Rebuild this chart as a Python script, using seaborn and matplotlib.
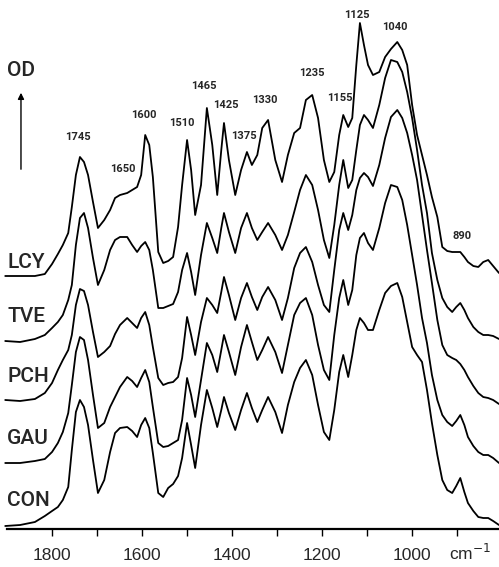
import numpy as np
import pandas as pd
import seaborn as sns
import matplotlib.pyplot as plt

# wavenumber grid (cm-1) shared by all five spectra
wavenumber = [1904, 1871, 1838, 1816, 1800, 1787, 1776, 1764, 1756, 1747,
              1738, 1729, 1720, 1709, 1698, 1684, 1671, 1660, 1649, 1633,
              1622, 1611, 1602, 1593, 1584, 1576, 1564, 1553, 1542, 1531,
              1520, 1511, 1500, 1491, 1482, 1469, 1456, 1444, 1433, 1424,
              1418, 1407, 1393, 1380, 1367, 1356, 1344, 1333, 1320, 1304,
              1289, 1276, 1262, 1249, 1236, 1222, 1209, 1196, 1184, 1173,
              1162, 1153, 1142, 1133, 1124, 1116, 1107, 1098, 1087, 1073,
              1060, 1047, 1033, 1022, 1011, 1000, 989, 978, 967, 956,
              944, 933, 922, 911, 902, 893, 884, 876, 864, 853,
              842, 831, 820, 807]

# OD, each relative to its own baseline
lcy = [0.00, 0.00, 0.00, 0.02, 0.12, 0.22, 0.31, 0.43, 0.69, 1.01,
       1.19, 1.14, 1.01, 0.74, 0.48, 0.56, 0.66, 0.78, 0.81, 0.83,
       0.86, 0.89, 1.01, 1.41, 1.31, 0.99, 0.24, 0.13, 0.15, 0.19,
       0.49, 0.91, 1.36, 1.06, 0.61, 0.91, 1.68, 1.31, 0.81, 1.26,
       1.53, 1.16, 0.81, 1.06, 1.24, 1.11, 1.21, 1.48, 1.56, 1.16,
       0.94, 1.21, 1.43, 1.48, 1.76, 1.81, 1.58, 1.16, 0.94, 1.04,
       1.41, 1.61, 1.49, 1.58, 2.11, 2.53, 2.31, 2.11, 2.01, 2.04,
       2.19, 2.27, 2.34, 2.26, 2.11, 1.71, 1.41, 1.21, 1.01, 0.79,
       0.59, 0.29, 0.25, 0.24, 0.24, 0.24, 0.19, 0.14, 0.10, 0.09,
       0.14, 0.16, 0.10, 0.03]
tve = [0.00, -0.01, 0.02, 0.06, 0.13, 0.19, 0.26, 0.41, 0.56, 0.96,
       1.23, 1.28, 1.13, 0.83, 0.56, 0.71, 0.91, 1.01, 1.04, 1.04,
       0.96, 0.89, 0.95, 0.99, 0.91, 0.71, 0.33, 0.33, 0.35, 0.37,
       0.49, 0.71, 0.88, 0.69, 0.46, 0.86, 1.18, 1.03, 0.88, 1.13,
       1.28, 1.09, 0.88, 1.13, 1.28, 1.13, 1.01, 1.09, 1.18, 1.06,
       0.91, 1.06, 1.29, 1.51, 1.66, 1.56, 1.31, 1.01, 0.83, 1.16,
       1.56, 1.81, 1.53, 1.61, 1.91, 2.16, 2.26, 2.21, 2.13, 2.36,
       2.63, 2.81, 2.79, 2.69, 2.49, 2.23, 1.91, 1.56, 1.28, 0.88,
       0.61, 0.43, 0.34, 0.29, 0.34, 0.38, 0.31, 0.23, 0.14, 0.09,
       0.06, 0.06, 0.05, 0.02]
pch = [0.01, 0.00, 0.02, 0.08, 0.18, 0.31, 0.41, 0.51, 0.66, 0.96,
       1.12, 1.10, 0.96, 0.69, 0.44, 0.49, 0.55, 0.67, 0.76, 0.83,
       0.78, 0.73, 0.83, 0.89, 0.76, 0.54, 0.23, 0.16, 0.18, 0.19,
       0.24, 0.43, 0.84, 0.66, 0.46, 0.79, 1.03, 0.96, 0.88, 1.09,
       1.24, 1.06, 0.81, 1.03, 1.18, 1.04, 0.91, 1.04, 1.14, 1.01,
       0.81, 1.03, 1.33, 1.48, 1.54, 1.39, 1.16, 0.96, 0.89, 1.31,
       1.71, 1.88, 1.71, 1.86, 2.11, 2.23, 2.28, 2.24, 2.15, 2.36,
       2.63, 2.84, 2.91, 2.83, 2.68, 2.46, 2.21, 1.86, 1.51, 1.18,
       0.81, 0.56, 0.46, 0.43, 0.41, 0.37, 0.31, 0.24, 0.15, 0.08,
       0.04, 0.03, 0.01, -0.03]
gau = [0.00, 0.00, 0.02, 0.04, 0.11, 0.20, 0.31, 0.50, 0.78, 1.11,
       1.26, 1.23, 1.03, 0.68, 0.35, 0.40, 0.56, 0.66, 0.76, 0.86,
       0.82, 0.76, 0.85, 0.93, 0.81, 0.56, 0.20, 0.16, 0.17, 0.20,
       0.23, 0.43, 0.85, 0.68, 0.46, 0.83, 1.20, 1.08, 0.91, 1.13,
       1.28, 1.11, 0.88, 1.16, 1.38, 1.21, 1.03, 1.13, 1.26, 1.11,
       0.90, 1.18, 1.48, 1.60, 1.65, 1.48, 1.18, 0.93, 0.83, 1.28,
       1.65, 1.83, 1.58, 1.73, 2.08, 2.25, 2.30, 2.20, 2.13, 2.35,
       2.60, 2.78, 2.76, 2.63, 2.38, 2.08, 1.78, 1.45, 1.20, 0.88,
       0.63, 0.48, 0.41, 0.37, 0.42, 0.48, 0.38, 0.26, 0.17, 0.11,
       0.08, 0.08, 0.05, 0.00]
con = [-0.01, 0.00, 0.03, 0.09, 0.14, 0.18, 0.25, 0.38, 0.75, 1.13,
       1.25, 1.18, 1.00, 0.65, 0.32, 0.45, 0.73, 0.92, 0.97, 0.98,
       0.94, 0.88, 1.00, 1.07, 0.97, 0.72, 0.32, 0.28, 0.37, 0.41,
       0.49, 0.67, 1.02, 0.80, 0.57, 1.00, 1.35, 1.17, 0.98, 1.15,
       1.28, 1.12, 0.95, 1.15, 1.32, 1.17, 1.03, 1.15, 1.28, 1.13,
       0.92, 1.20, 1.43, 1.57, 1.65, 1.50, 1.20, 0.93, 0.85, 1.15,
       1.53, 1.70, 1.48, 1.70, 1.95, 2.07, 2.02, 1.95, 1.95, 2.15,
       2.32, 2.39, 2.42, 2.28, 2.03, 1.78, 1.70, 1.63, 1.35, 1.02,
       0.70, 0.45, 0.35, 0.32, 0.39, 0.47, 0.33, 0.22, 0.14, 0.08,
       0.07, 0.07, 0.04, 0.00]

samples = ['LCY', 'TVE', 'PCH', 'GAU', 'CON']
spectra = [lcy, tve, pch, gau, con]
offsets = [2.53, 1.88, 1.28, 0.66, 0.04]
label_y = [2.67, 2.12, 1.52, 0.90, 0.28]

peak_text = ['1745', '1650', '1600', '1510', '1465', '1425', '1375',
             '1330', '1235', '1155', '1125', '1040', '890']
peak_x = [1742, 1642, 1596, 1511, 1462, 1413, 1373, 1327, 1222, 1160,
          1122, 1038, 889]
peak_y = [3.92, 3.60, 4.14, 4.06, 4.43, 4.24, 3.93, 4.29, 4.56, 4.31,
          5.14, 5.02, 2.93]

frames = []
for name, od, off in zip(samples, spectra, offsets):
    frames.append(pd.DataFrame({'wn': wavenumber,
                                'od': np.array(od) + off,
                                'sample': name}))
df = pd.concat(frames, ignore_index=True)

sns.set_style('white')
plt.rcParams['font.family'] = ['Liberation Sans', 'DejaVu Sans']

fig = plt.figure(figsize=(4.99, 5.67), dpi=100)
ax = fig.add_axes([0, 38 / 567, 1, 529 / 567])
sns.lineplot(data=df, x='wn', y='od', hue='sample', hue_order=samples,
             palette=['black'] * 5, estimator=None, legend=False,
             linewidth=1.3, ax=ax)

ax.set_xlim(1915.6, 807)
ax.set_ylim(0, 5.29)
ax.set_xlabel('')
ax.set_ylabel('')
ax.set_yticks([])
ax.set_xticks([1800, 1600, 1400, 1200, 1000])
ax.set_xticks([1700, 1500, 1300, 1100, 900], minor=True)
ax.tick_params(axis='x', which='both', direction='out', length=5, width=1,
               color='black', bottom=True, pad=9, labelsize=12.5)
for s in ['top', 'left', 'right']:
    ax.spines[s].set_visible(False)
ax.spines['bottom'].set_color('black')
ax.spines['bottom'].set_linewidth(1.6)
ax.spines['bottom'].set_bounds(1900, 807)

ax.text(871, -0.045, 'cm$^{-1}$', transform=ax.get_xaxis_transform(),
        ha='center', va='center', fontsize=12.5)

narrow = ['Roboto', 'DejaVu Sans']
for name, y in zip(samples, label_y):
    ax.text(1900, y, name, ha='left', va='center', fontsize=15,
            fontweight='medium', family=narrow)
for t, x, y in zip(peak_text, peak_x, peak_y):
    ax.text(x, y, t, ha='center', va='center', fontsize=8,
            fontweight='bold', family=narrow)

ax.text(1868, 4.58, 'OD', ha='center', va='center', fontsize=15,
        fontweight='medium', family=narrow)
ax.annotate('', xy=(1869, 4.39), xytext=(1869, 3.57),
            arrowprops=dict(arrowstyle='-|>', color='black', lw=1,
                            mutation_scale=9))

fig.savefig('out.png', dpi=100)
